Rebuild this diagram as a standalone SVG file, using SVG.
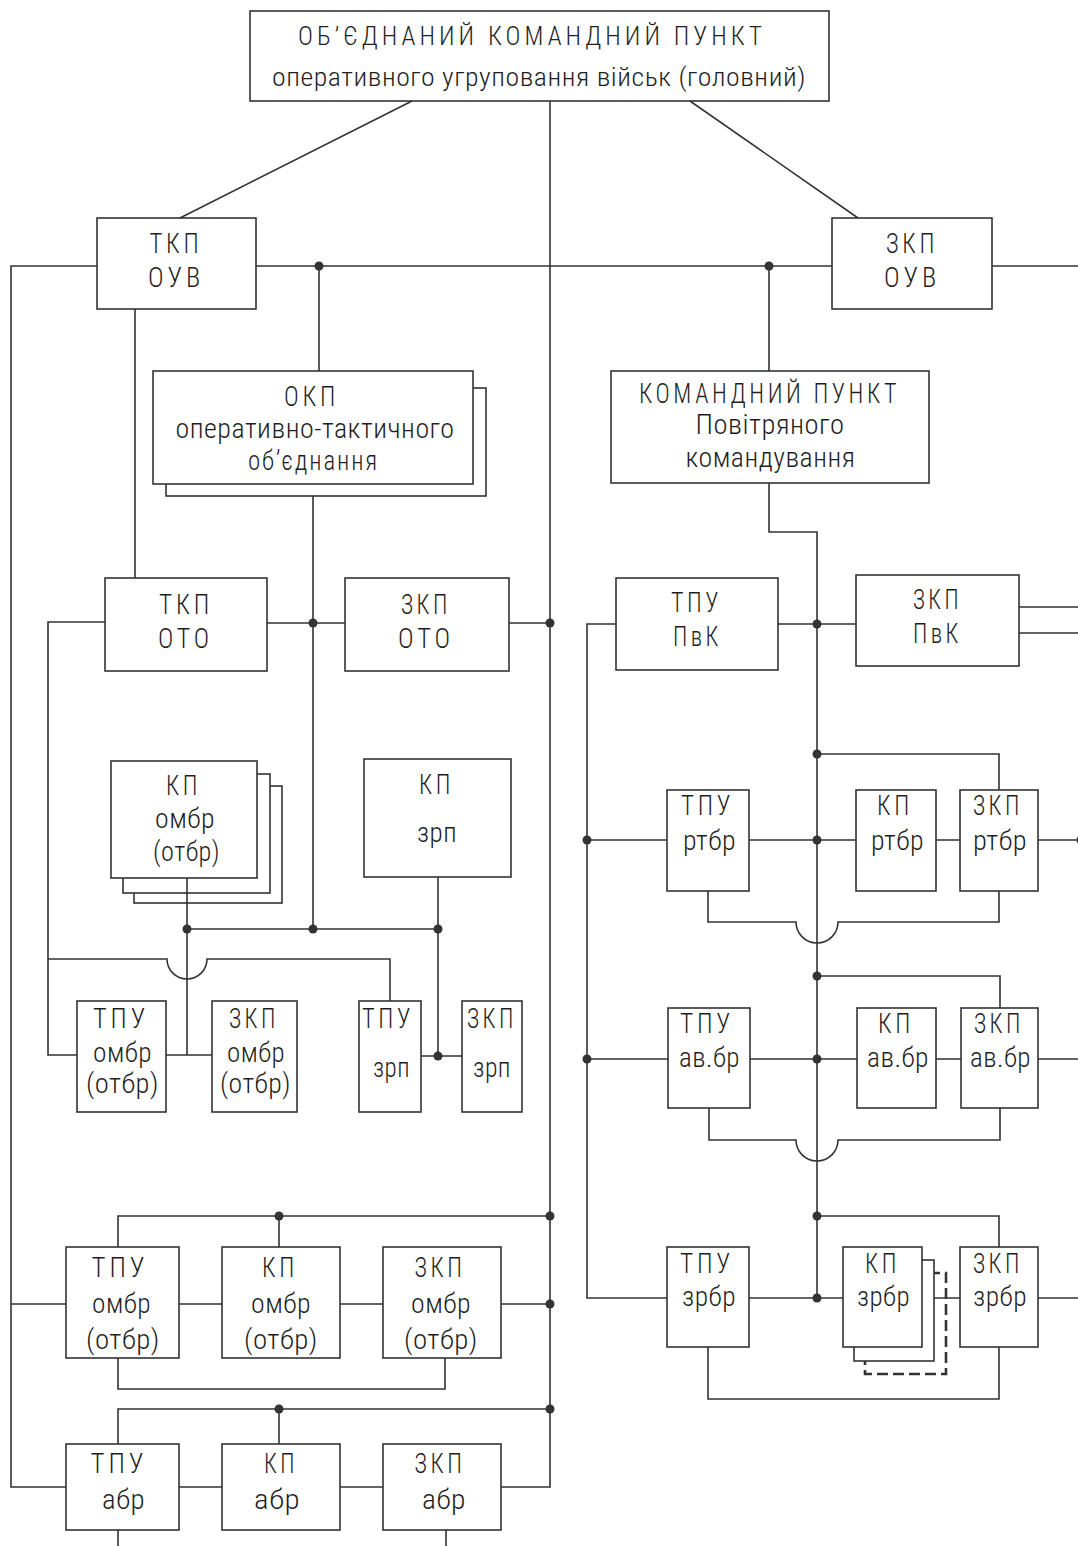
<svg xmlns="http://www.w3.org/2000/svg" width="1078" height="1546" viewBox="0 0 1078 1546">
<style>
.box{fill:#fff;stroke:#333;stroke-width:1.6}
.dash{fill:#fff;stroke:#333;stroke-width:2.6;stroke-dasharray:11,5}
.ln{fill:none;stroke:#333;stroke-width:1.6}
.dot{fill:#333}
text{font-family:"Liberation Sans Narrow","Roboto Condensed",Roboto,"DejaVu Sans Condensed",sans-serif;font-size:27px;font-weight:300;fill:#1e1e1e;text-anchor:middle;letter-spacing:0.5px}
.t25{font-size:25px}
.sp{letter-spacing:4px}
.sp2{letter-spacing:2px}
</style>
<rect width="1078" height="1546" fill="#fff"/>
<g id="nodes">
<g id="n_top"><rect class="box" x="250" y="11" width="579" height="90"/>
<text class="t25 sp" x="532" y="45" textLength="468" lengthAdjust="spacingAndGlyphs">ОБ’ЄДНАНИЙ КОМАНДНИЙ ПУНКТ</text>
<text class="t25" x="539" y="86" textLength="534" lengthAdjust="spacingAndGlyphs">оперативного угруповання військ (головний)</text></g>
<g id="n_tkp_ouv"><rect class="box" x="97" y="218" width="159" height="91"/>
<text class="sp" x="176" y="253" textLength="53" lengthAdjust="spacingAndGlyphs">ТКП</text>
<text class="sp" x="176" y="287" textLength="56" lengthAdjust="spacingAndGlyphs">ОУВ</text></g>
<g id="n_zkp_ouv"><rect class="box" x="832" y="218" width="160" height="91"/>
<text class="sp" x="912" y="253" textLength="52" lengthAdjust="spacingAndGlyphs">ЗКП</text>
<text class="sp" x="912" y="287" textLength="56" lengthAdjust="spacingAndGlyphs">ОУВ</text></g>
<g id="n_okp"><rect class="box" x="166" y="388" width="320" height="108"/><rect class="box" x="153" y="371" width="320" height="113"/>
<text class="sp" x="311.5" y="406" textLength="55" lengthAdjust="spacingAndGlyphs">ОКП</text>
<text x="315" y="438" textLength="279" lengthAdjust="spacingAndGlyphs">оперативно-тактичного</text>
<text class="sp2" x="313.5" y="470" textLength="131" lengthAdjust="spacingAndGlyphs">об’єднання</text></g>
<g id="n_kp_pvk"><rect class="box" x="611" y="371" width="318" height="112"/>
<text class="sp" x="769.5" y="403" textLength="261" lengthAdjust="spacingAndGlyphs">КОМАНДНИЙ ПУНКТ</text>
<text x="770" y="434" textLength="149" lengthAdjust="spacingAndGlyphs">Повітряного</text>
<text x="770.5" y="467" textLength="170" lengthAdjust="spacingAndGlyphs">командування</text></g>
<g id="n_tkp_oto"><rect class="box" x="105" y="578" width="162" height="93"/>
<text class="sp" x="186" y="614" textLength="54" lengthAdjust="spacingAndGlyphs">ТКП</text>
<text class="sp" x="185.5" y="648" textLength="55" lengthAdjust="spacingAndGlyphs">ОТО</text></g>
<g id="n_zkp_oto"><rect class="box" x="345" y="578" width="164" height="93"/>
<text class="sp" x="426" y="614" textLength="50" lengthAdjust="spacingAndGlyphs">ЗКП</text>
<text class="sp" x="426" y="648" textLength="56" lengthAdjust="spacingAndGlyphs">ОТО</text></g>
<g id="n_tpu_pvk"><rect class="box" x="616" y="578" width="162" height="92"/>
<text class="sp" x="696.5" y="612" textLength="51" lengthAdjust="spacingAndGlyphs">ТПУ</text>
<text class="sp" x="697.5" y="646" textLength="49" lengthAdjust="spacingAndGlyphs">ПвК</text></g>
<g id="n_zkp_pvk"><rect class="box" x="856" y="575" width="163" height="91"/>
<text class="sp" x="937.5" y="609" textLength="49" lengthAdjust="spacingAndGlyphs">ЗКП</text>
<text class="sp" x="937.5" y="643" textLength="49" lengthAdjust="spacingAndGlyphs">ПвК</text></g>
<g id="n_kp_ombr_stack"><rect class="box" x="134" y="786" width="148" height="117"/><rect class="box" x="123" y="774" width="147" height="119"/><rect class="box" x="111" y="761" width="146" height="117"/>
<text class="sp" x="183.5" y="795" textLength="35" lengthAdjust="spacingAndGlyphs">КП</text>
<text x="185" y="828" textLength="60" lengthAdjust="spacingAndGlyphs">омбр</text>
<text x="186.5" y="861" textLength="67" lengthAdjust="spacingAndGlyphs">(отбр)</text></g>
<g id="n_kp_zrp"><rect class="box" x="364" y="759" width="147" height="118"/>
<text class="sp" x="436.5" y="794" textLength="35" lengthAdjust="spacingAndGlyphs">КП</text>
<text x="437" y="842" textLength="40" lengthAdjust="spacingAndGlyphs">зрп</text></g>
<g id="n_tpu_ombr1"><rect class="box" x="77" y="1001" width="89" height="111"/>
<text class="sp" x="121" y="1028" textLength="56" lengthAdjust="spacingAndGlyphs">ТПУ</text>
<text x="122.5" y="1062" textLength="59" lengthAdjust="spacingAndGlyphs">омбр</text>
<text x="122.5" y="1093" textLength="73" lengthAdjust="spacingAndGlyphs">(отбр)</text></g>
<g id="n_zkp_ombr1"><rect class="box" x="212" y="1001" width="85" height="111"/>
<text class="sp" x="254" y="1028" textLength="50" lengthAdjust="spacingAndGlyphs">ЗКП</text>
<text x="256" y="1062" textLength="58" lengthAdjust="spacingAndGlyphs">омбр</text>
<text x="255.5" y="1093" textLength="71" lengthAdjust="spacingAndGlyphs">(отбр)</text></g>
<g id="n_tpu_zrp"><rect class="box" x="359" y="1001" width="62" height="111"/>
<text class="sp" x="388" y="1028" textLength="52" lengthAdjust="spacingAndGlyphs">ТПУ</text>
<text x="391.5" y="1077" textLength="37" lengthAdjust="spacingAndGlyphs">зрп</text></g>
<g id="n_zkp_zrp"><rect class="box" x="462" y="1001" width="60" height="111"/>
<text class="sp" x="492" y="1028" textLength="50" lengthAdjust="spacingAndGlyphs">ЗКП</text>
<text x="492" y="1077" textLength="38" lengthAdjust="spacingAndGlyphs">зрп</text></g>
<g id="n_tpu_rtbr"><rect class="box" x="667" y="790" width="82" height="101"/>
<text class="sp" x="707.5" y="815" textLength="53" lengthAdjust="spacingAndGlyphs">ТПУ</text>
<text x="709.5" y="850" textLength="53" lengthAdjust="spacingAndGlyphs">ртбр</text></g>
<g id="n_kp_rtbr"><rect class="box" x="856" y="790" width="80" height="101"/>
<text class="sp" x="895" y="815" textLength="36" lengthAdjust="spacingAndGlyphs">КП</text>
<text x="897.5" y="850" textLength="53" lengthAdjust="spacingAndGlyphs">ртбр</text></g>
<g id="n_zkp_rtbr"><rect class="box" x="960" y="790" width="78" height="101"/>
<text class="sp" x="998" y="815" textLength="50" lengthAdjust="spacingAndGlyphs">ЗКП</text>
<text x="1000" y="850" textLength="54" lengthAdjust="spacingAndGlyphs">ртбр</text></g>
<g id="n_tpu_avbr"><rect class="box" x="668" y="1008" width="82" height="100"/>
<text class="sp" x="707" y="1033" textLength="54" lengthAdjust="spacingAndGlyphs">ТПУ</text>
<text x="709.5" y="1067" textLength="61" lengthAdjust="spacingAndGlyphs">ав.бр</text></g>
<g id="n_kp_avbr"><rect class="box" x="857" y="1008" width="79" height="100"/>
<text class="sp" x="896" y="1033" textLength="36" lengthAdjust="spacingAndGlyphs">КП</text>
<text x="898" y="1067" textLength="62" lengthAdjust="spacingAndGlyphs">ав.бр</text></g>
<g id="n_zkp_avbr"><rect class="box" x="961" y="1008" width="77" height="100"/>
<text class="sp" x="999" y="1033" textLength="50" lengthAdjust="spacingAndGlyphs">ЗКП</text>
<text x="1000.5" y="1067" textLength="61" lengthAdjust="spacingAndGlyphs">ав.бр</text></g>
<g id="n_tpu_zrbr"><rect class="box" x="667" y="1247" width="82" height="100"/>
<text class="sp" x="707" y="1273" textLength="54" lengthAdjust="spacingAndGlyphs">ТПУ</text>
<text x="709" y="1306" textLength="54" lengthAdjust="spacingAndGlyphs">зрбр</text></g>
<g id="n_kp_zrbr_stack"><rect class="dash" x="865" y="1273" width="81" height="101"/><rect class="box" x="854" y="1260" width="80" height="101"/><rect class="box" x="843" y="1247" width="79" height="100"/>
<text class="sp" x="882.5" y="1273" textLength="35" lengthAdjust="spacingAndGlyphs">КП</text>
<text x="883.5" y="1306" textLength="53" lengthAdjust="spacingAndGlyphs">зрбр</text></g>
<g id="n_zkp_zrbr"><rect class="box" x="960" y="1247" width="78" height="100"/>
<text class="sp" x="998" y="1273" textLength="50" lengthAdjust="spacingAndGlyphs">ЗКП</text>
<text x="1000" y="1306" textLength="54" lengthAdjust="spacingAndGlyphs">зрбр</text></g>
<g id="n_tpu_ombr2"><rect class="box" x="66" y="1247" width="113" height="111"/>
<text class="sp" x="120" y="1277" textLength="57" lengthAdjust="spacingAndGlyphs">ТПУ</text>
<text x="121.5" y="1313" textLength="59" lengthAdjust="spacingAndGlyphs">омбр</text>
<text x="123" y="1349" textLength="74" lengthAdjust="spacingAndGlyphs">(отбр)</text></g>
<g id="n_kp_ombr2"><rect class="box" x="222" y="1247" width="118" height="111"/>
<text class="sp" x="280" y="1277" textLength="36" lengthAdjust="spacingAndGlyphs">КП</text>
<text x="281" y="1313" textLength="60" lengthAdjust="spacingAndGlyphs">омбр</text>
<text x="281" y="1349" textLength="74" lengthAdjust="spacingAndGlyphs">(отбр)</text></g>
<g id="n_zkp_ombr2"><rect class="box" x="383" y="1247" width="118" height="111"/>
<text class="sp" x="440" y="1277" textLength="51" lengthAdjust="spacingAndGlyphs">ЗКП</text>
<text x="441" y="1313" textLength="60" lengthAdjust="spacingAndGlyphs">омбр</text>
<text x="441" y="1349" textLength="74" lengthAdjust="spacingAndGlyphs">(отбр)</text></g>
<g id="n_tpu_abr"><rect class="box" x="66" y="1444" width="113" height="86"/>
<text class="sp" x="119" y="1473" textLength="57" lengthAdjust="spacingAndGlyphs">ТПУ</text>
<text x="123.5" y="1509" textLength="43" lengthAdjust="spacingAndGlyphs">абр</text></g>
<g id="n_kp_abr"><rect class="box" x="222" y="1444" width="118" height="86"/>
<text class="sp" x="281" y="1473" textLength="34" lengthAdjust="spacingAndGlyphs">КП</text>
<text x="277" y="1509" textLength="46" lengthAdjust="spacingAndGlyphs">абр</text></g>
<g id="n_zkp_abr"><rect class="box" x="383" y="1444" width="118" height="86"/>
<text class="sp" x="440" y="1473" textLength="51" lengthAdjust="spacingAndGlyphs">ЗКП</text>
<text x="444" y="1509" textLength="44" lengthAdjust="spacingAndGlyphs">абр</text></g>
</g>
<g id="connectors">
<path class="ln" d="M412,101 L180,218 M690,101 L858,218"/>
<path class="ln" d="M550,101 V1487 H501"/>
<path class="ln" d="M256,266 H832 M992,266 H1078 M97,266 H11 V1487 H66"/>
<path class="ln" d="M319,266 V371 M769,266 V371 M135,309 V578 M313,496 V929"/>
<path class="ln" d="M267,623 H345 M509,623 H550"/>
<path class="ln" d="M105,622 H48 V1055 H77"/>
<path class="ln" d="M48,959 H167 A20,20 0 0 0 207,959 H390 V1001"/>
<path class="ln" d="M187,878 V1055 M166,1055 H212"/>
<path class="ln" d="M438,877 V1056 M421,1056 H462 M187,929 H438"/>
<path class="ln" d="M769,483 V532 H817 V1298 M778,624 H856 M616,624 H587 V1298 H667 M1019,607 H1078 M1019,633 H1078"/>
<path class="ln" d="M817,754 H999 V790 M587,840 H667 M749,840 H856 M936,840 H960 M1038,840 H1078 M708,891 V922 H796 A21,21 0 0 0 838,922 H999 V891"/>
<path class="ln" d="M817,976 H1000 V1008 M587,1059 H668 M750,1059 H857 M936,1059 H961 M1038,1059 H1078 M709,1108 V1140 H796 A21,21 0 0 0 838,1140 H1000 V1108"/>
<path class="ln" d="M817,1216 H999 V1247 M749,1298 H843 M934,1298 H960 M1038,1298 H1078 M708,1347 V1399 H999 V1347"/>
<path class="ln" d="M550,1216 H118 V1247 M279,1216 V1247 M11,1304 H66 M179,1304 H222 M340,1304 H383 M501,1304 H550 M118,1358 V1389 H445 V1358"/>
<path class="ln" d="M550,1409 H118 V1444 M279,1409 V1444 M179,1487 H222 M340,1487 H383 M118,1530 V1546 M446,1530 V1546"/>
<g class="dot">
<circle cx="319" cy="266" r="4.5"/><circle cx="769" cy="266" r="4.5"/>
<circle cx="313" cy="623" r="4.5"/><circle cx="550" cy="623" r="4.5"/>
<circle cx="187" cy="929" r="4.5"/><circle cx="313" cy="929" r="4.5"/><circle cx="438" cy="929" r="4.5"/><circle cx="438" cy="1056" r="4.5"/>
<circle cx="817" cy="624" r="4.5"/>
<circle cx="817" cy="754" r="4.5"/><circle cx="587" cy="840" r="4.5"/><circle cx="817" cy="840" r="4.5"/><circle cx="1081" cy="840" r="4.5"/>
<circle cx="817" cy="976" r="4.5"/><circle cx="587" cy="1059" r="4.5"/><circle cx="817" cy="1059" r="4.5"/>
<circle cx="817" cy="1216" r="4.5"/><circle cx="817" cy="1298" r="4.5"/>
<circle cx="279" cy="1216" r="4.5"/><circle cx="550" cy="1216" r="4.5"/><circle cx="550" cy="1304" r="4.5"/>
<circle cx="279" cy="1409" r="4.5"/><circle cx="550" cy="1409" r="4.5"/>
</g>
</g>
</svg>
